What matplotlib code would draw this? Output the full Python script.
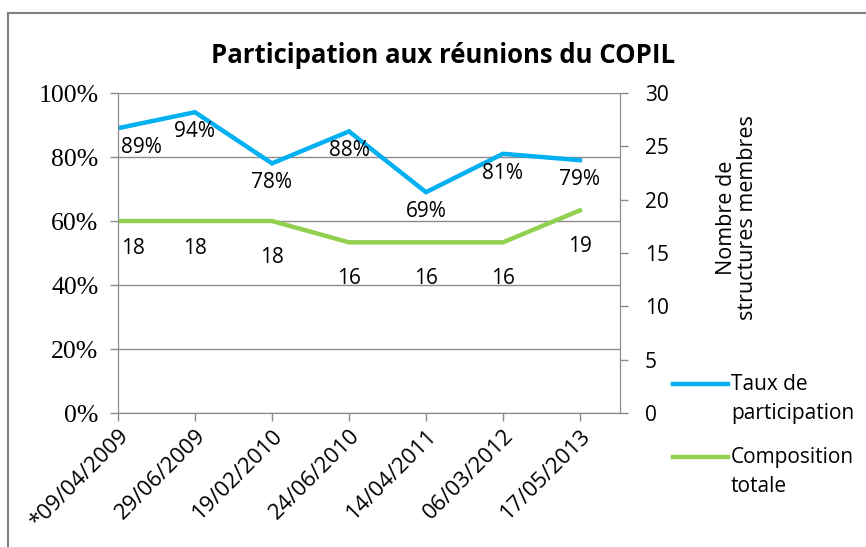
import numpy as np
import matplotlib.pyplot as plt
from matplotlib.patches import Rectangle
from matplotlib.ticker import FuncFormatter

dates = ["*09/04/2009", "29/06/2009", "19/02/2010", "24/06/2010",
         "14/04/2011", "06/03/2012", "17/05/2013"]
taux = [89, 94, 78, 88, 69, 81, 79]
composition = [18, 18, 18, 16, 16, 16, 19]

blue = "#00B0F0"
green = "#92D050"
grey = "#8c8c8c"
sans = ["Open Sans", "DejaVu Sans"]
fs = 15

fig = plt.figure(figsize=(8.66, 5.47), dpi=100)
fig.patches.append(Rectangle((8 / 866, -0.1), 1.2, 1 - 13 / 547 + 0.1,
                             transform=fig.transFigure, fill=False,
                             edgecolor="#7f7f7f", linewidth=1.5))

ax = fig.add_axes([118 / 866, 1 - 413 / 547, (620 - 118) / 866, (413 - 93) / 547])
ax2 = ax.twinx()

x = np.arange(len(dates))
ax.plot(x, taux, color=blue, linewidth=3.2, solid_joinstyle="miter")
ax2.plot(x, composition, color=green, linewidth=3.2, solid_joinstyle="miter")

ax.set_xlim(0, 6.52)
ax.set_ylim(0, 100)
ax2.set_ylim(0, 30)

ax.set_yticks(np.arange(0, 101, 20))
ax.yaxis.set_major_formatter(FuncFormatter(lambda v, p: f"{v:.0f}%"))
ax.grid(axis="y", color=grey, linewidth=1)
ax.set_axisbelow(True)
ax2.set_yticks(np.arange(0, 31, 5))

ax.set_xticks(x)
ax.set_xticklabels(dates, rotation=45, ha="right", rotation_mode="anchor",
                   family=sans, fontsize=16)
for t in ax.get_yticklabels():
    t.set_family("Liberation Serif")
    t.set_fontsize(18.5)
for t in ax2.get_yticklabels():
    t.set_family(sans)
    t.set_fontsize(fs)

for a in (ax, ax2):
    for s in a.spines.values():
        s.set_color(grey)
    a.spines["top"].set_visible(False)
    a.tick_params(colors=grey, labelcolor="black", length=6, width=1)
ax.tick_params(axis="y", pad=8)
ax.tick_params(axis="x", pad=3)
ax2.tick_params(axis="y", pad=12)

# data labels, below the points
for i, v in enumerate(taux):
    dx, ha = (2, "left") if i == 0 else (0, "center")
    ax.annotate(f"{v}%", (x[i], v), xytext=(dx, -14), textcoords="offset points",
                ha=ha, va="center", fontsize=fs, family=sans)
for i, v in enumerate(composition):
    dx, ha = (2, "left") if i == 0 else (0, "center")
    dy = -20 if v == 18 and i < 2 else -26
    ax2.annotate(f"{v}", (x[i], v), xytext=(dx, dy), textcoords="offset points",
                 ha=ha, va="center", fontsize=fs, family=sans)

fig.text(443 / 866, 1 - 55 / 547, "Participation aux réunions du COPIL",
         ha="center", va="center", fontsize=18.5, fontweight="bold", family=sans)
fig.text(737 / 866, 1 - 218 / 547, "Nombre de\nstructures membres", rotation=90,
         ha="center", va="center", fontsize=15.5, family=sans, linespacing=1.0)

# legend
for (yy, col, lines) in [(384, blue, ["Taux de", "participation"]),
                         (457, green, ["Composition", "totale"])]:
    fig.add_artist(plt.Line2D([673 / 866, 728 / 866], [1 - yy / 547] * 2,
                              color=col, linewidth=3.2, transform=fig.transFigure))
    for k, s in enumerate(lines):
        fig.text(731 / 866, 1 - (yy + 29 * k) / 547, s, ha="left", va="center",
                 fontsize=fs, family=sans)

fig.savefig("out.png", dpi=100)
